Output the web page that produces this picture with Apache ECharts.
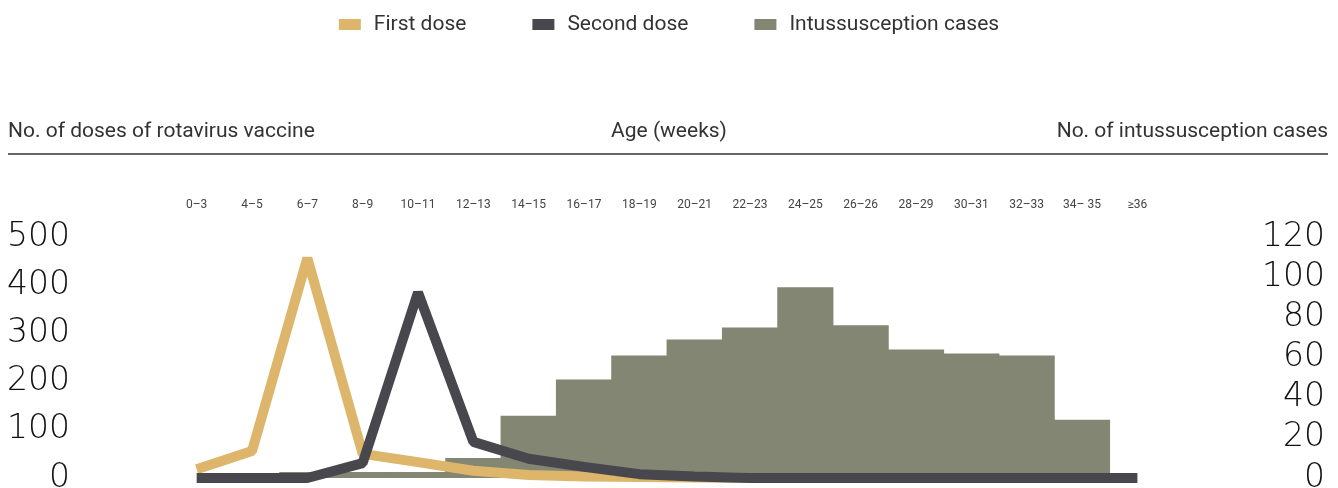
<!DOCTYPE html>
<html>
<head>
<meta charset="utf-8">
<script src="https://cdn.jsdelivr.net/npm/echarts@6/dist/echarts.min.js"></script>
<style>
	html, body {
		height: 100%;
		width: 100%;
		margin: 0;
		padding: 0;
		background: #fff;
	}
	#chartBox {
		width: 1338px;
		height: 488px;
	}
</style>
</head>
<body>
<div id="chartBox"></div>
<script>
	// 年龄段（周）
	var ageGroups = ['0–3', '4–5', '6–7', '8–9', '10–11', '12–13', '14–15', '16–17', '18–19',
		'20–21', '22–23', '24–25', '26–26', '28–29', '30–31', '32–33', '34– 35', '≥36'];
	// 第一剂 / 第二剂 接种数
	var firstDose = [18, 56, 456, 50, 33, 15, 6, 3, 2, 1, 0, 0, 0, 0, 0, 0, 0, 0];
	var secondDose = [0, 0, 0, 31, 385, 75, 40, 23, 8, 3, 0, 0, 0, 0, 0, 0, 0, 0];
	// 肠套叠病例数
	var intussCases = [0, 1, 3, 3, 3, 10, 31, 49, 61, 69, 75, 95, 76, 64, 62, 61, 29, 0];
	// 坐标轴刻度
	var doseTicks = {min: 0, max: 500, interval: 100};
	var caseTicks = {min: 0, max: 120, interval: 20};

	var titleFont = 'Roboto, "Liberation Sans", sans-serif';
	var numFont = '"DejaVu Sans", sans-serif';

	var chart = echarts.init(document.getElementById('chartBox'));
	var option = {
		animation: false,
		color: ['#DDB66B', '#48474D', '#828672'],
		title: [
			{text: 'No. of doses of rotavirus vaccine', left: 8, top: 121, padding: 0,
				textStyle: {fontFamily: titleFont, fontSize: 21, fontWeight: 'normal', color: '#333'}},
			{text: 'Age (weeks)', left: 'center', top: 121, padding: 0,
				textStyle: {fontFamily: titleFont, fontSize: 21, fontWeight: 'normal', color: '#333'}},
			{text: 'No. of intussusception cases', right: 10, top: 121, padding: 0,
				textStyle: {fontFamily: titleFont, fontSize: 21, fontWeight: 'normal', color: '#333'}}
		],
		legend: { //图例
			data: ['First dose', 'Second dose', 'Intussusception cases'],
			left: 'center',
			top: 14,
			padding: 0,
			icon: 'rect',
			itemWidth: 22,
			itemHeight: 11,
			itemGap: 66,
			textStyle: {fontFamily: titleFont, fontSize: 21, color: '#333', padding: [0, 0, 0, 8]}
		},
		graphic: [{ //标题下方分隔线
			type: 'line',
			shape: {x1: 8, y1: 154, x2: 1328, y2: 154},
			style: {stroke: '#333', lineWidth: 1.5}
		}],
		grid: {left: 169, right: 173, top: 237, bottom: 10, outerBoundsMode: 'none'},
		xAxis: {
			type: 'category',
			position: 'top',
			data: ageGroups,
			boundaryGap: true,
			axisLine: {show: false},
			axisTick: {show: false},
			axisLabel: {margin: 26, fontFamily: titleFont, fontSize: 12, color: '#444'}
		},
		yAxis: [{
			type: 'value',
			position: 'left',
			min: doseTicks.min,
			max: doseTicks.max,
			interval: doseTicks.interval,
			splitLine: {show: false},
			axisLine: {show: false},
			axisTick: {show: false},
			axisLabel: {margin: 99, padding: [0, 0, 6, 0], fontFamily: numFont, fontWeight: 200,
				fontSize: 33, color: '#111'}
		}, {
			type: 'value',
			position: 'right',
			min: caseTicks.min,
			max: caseTicks.max,
			interval: caseTicks.interval,
			splitLine: {show: false},
			axisLine: {show: false},
			axisTick: {show: false},
			axisLabel: {margin: 160, align: 'right', padding: [0, 0, 6, 0], fontFamily: numFont,
				fontWeight: 200, fontSize: 33, color: '#111'}
		}],
		series: [{
			name: 'Intussusception cases',
			type: 'bar',
			yAxisIndex: 1,
			barWidth: '101.5%', // 相邻柱子略微重叠，避免白缝
			data: intussCases,
			itemStyle: {color: '#828672'},
			z: 1
		}, {
			name: 'First dose',
			type: 'line',
			yAxisIndex: 0,
			data: firstDose,
			symbol: 'none',
			lineStyle: {width: 10, color: '#DDB66B', join: 'bevel'},
			z: 2
		}, {
			name: 'Second dose',
			type: 'line',
			yAxisIndex: 0,
			data: secondDose,
			symbol: 'none',
			lineStyle: {width: 10, color: '#48474D', join: 'bevel'},
			z: 3
		}]
	};
	chart.setOption(option);
</script>
</body>
</html>
